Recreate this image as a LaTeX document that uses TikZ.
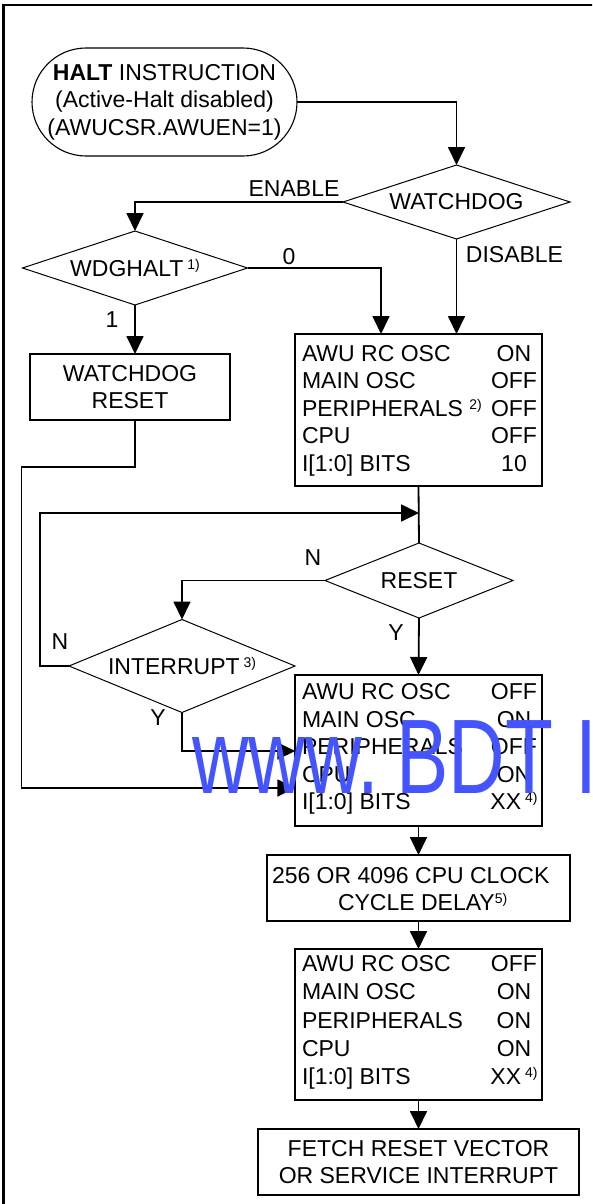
\documentclass[tikz,border=0pt]{standalone}
\usepackage{fontspec}
\usepackage{graphicx}
\setmainfont{Liberation Sans}
\usetikzlibrary{shapes.geometric,arrows.meta}
\definecolor{wm}{RGB}{68,85,255}
\newcommand\rw[2]{\makebox[189pt][l]{#1}\makebox[46pt][c]{#2}}
\newcommand\sps[1]{\raisebox{7pt}{\fontsize{14}{14}\selectfont #1}}
\begin{document}
\begin{tikzpicture}[x=1pt,y=-1pt,
  every node/.style={font=\fontsize{23}{27.5}\selectfont, inner sep=0pt, outer sep=0pt},
  conn/.style={line width=1.8pt, -{Triangle[length=18pt,width=17pt]}},
  plain/.style={line width=1.8pt},
  dia/.style={draw, diamond, line width=1pt, inner sep=0pt, outer sep=0pt},
  boxx/.style={draw, rectangle, line width=1.8pt}]
\useasboundingbox (0,0) rectangle (592,1204);
\clip (0,0) rectangle (592,1204);
% frame
\draw[line width=2.2pt] (3.5,1210) -- (3.5,5) -- (600,5);
% terminal
\node[draw, line width=1.1pt, rounded corners=54pt, minimum width=265pt, minimum height=108pt, align=center] (term) at (164.5,102)
  {\textbf{HALT} INSTRUCTION\\(Active-Halt disabled)\\(AWUCSR.AWUEN=1)};
% diamonds
\node[dia, minimum width=227pt, minimum height=74pt] (wd) at (456.5,202) {\makebox[0pt]{WATCHDOG}};
\node[dia, minimum width=225pt, minimum height=74pt] (wg) at (135,268) {\makebox[0pt]{WDGHALT\,\sps{1)}}};
\node[dia, minimum width=188pt, minimum height=75pt] (rs) at (419,580.5) {\makebox[0pt]{RESET}};
\node[dia, minimum width=226pt, minimum height=93pt] (it) at (182,666) {\makebox[0pt]{INTERRUPT\,\sps{3)}}};
% boxes
\node[boxx, minimum width=200pt, minimum height=66pt, align=center] (wr) at (130,387) {WATCHDOG\\RESET};
\node[boxx, minimum width=246.5pt, minimum height=152pt] (b1) at (418.5,410) {};
\node[align=left, anchor=west] (b1t) at (302,410.5)
  {\rw{AWU RC OSC}{ON}\\\rw{MAIN OSC}{OFF}\\\rw{PERIPHERALS \sps{2)}}{OFF}\\\rw{CPU}{OFF}\\\rw{I[1:0] BITS}{10}};
\node[boxx, minimum width=246.5pt, minimum height=151pt] (b2) at (418.5,750.5) {};
\node[align=left, anchor=west] (b2t) at (302,749)
  {\rw{AWU RC OSC}{OFF}\\\rw{MAIN OSC}{ON}\\\rw{PERIPHERALS}{OFF}\\\rw{CPU}{ON}\\\rw{I[1:0] BITS}{XX\kern4pt\sps{4)}}};
\node[boxx, minimum width=303pt, minimum height=66pt] (dl) at (418.5,888) {};
\node[align=left, anchor=west] (dlt) at (272,889)
  {256 OR 4096 CPU CLOCK\\\hspace*{66pt}CYCLE DELAY\sps{5)}};
\node[boxx, minimum width=246.5pt, minimum height=151pt] (b3) at (418.5,1024.5) {};
\node[align=left, anchor=west, font=\fontsize{23}{28.25}\selectfont] (b3t) at (302,1022.5)
  {\rw{AWU RC OSC}{OFF}\\\rw{MAIN OSC}{ON}\\\rw{PERIPHERALS}{ON}\\\rw{CPU}{ON}\\\rw{I[1:0] BITS}{XX\kern4pt\sps{4)}}};
\node[boxx, minimum width=321pt, minimum height=66pt, align=center] (fe) at (418.5,1162)
  {FETCH RESET VECTOR\\OR SERVICE INTERRUPT};
% labels
\node (lEN) at (294,189) {ENABLE};
\node (l0) at (289,257) {0};
\node (lDIS) at (514.5,255) {DISABLE};
\node (l1) at (112,320) {1};
\node (lN1) at (313,558) {N};
\node (lY1) at (396,633) {Y};
\node (lN2) at (60,642) {N};
\node (lY2) at (158,718) {Y};
% coordinates
\coordinate (in1) at (381,334);
\coordinate (jn) at (419,513);
% connectors
\draw[conn] (term.east) -| (wd.north);
\draw[conn] (wd.west) -| (wg.north);
\draw[conn] (wg.east) -| (in1);
\draw[conn] (wd.south) -- (wd.south |- b1.north);
\draw[conn] (wg.south) -- (wg.south |- wr.north);
\draw[conn] (wg.south |- wr.south) -- (135,467) -- (21.5,467) -- (21.5,788) -- (b2.west |- 0,788);
\draw[plain] (b1.south) -- (rs.north);
\draw[conn] (it.west) -- (40,666) -- (40,513) -- (jn);
\draw[conn] (rs.west) -| (it.north);
\draw[conn] (rs.south) -- (b2.north);
\draw[conn] (it.south) -- (182,751) -- (b2.west |- 0,751);
\draw[conn] (b2.south) -- (dl.north);
\draw[conn] (dl.south) -- (b3.north);
\draw[conn] (b3.south) -- (fe.north);
% watermark
\node[anchor=base west, text=wm] (wmk) at (192,793)
  {\scalebox{0.74}[1]{\fontsize{106}{106}\selectfont www.\kern23pt BDT\kern30pt I}};
\end{tikzpicture}
\end{document}
